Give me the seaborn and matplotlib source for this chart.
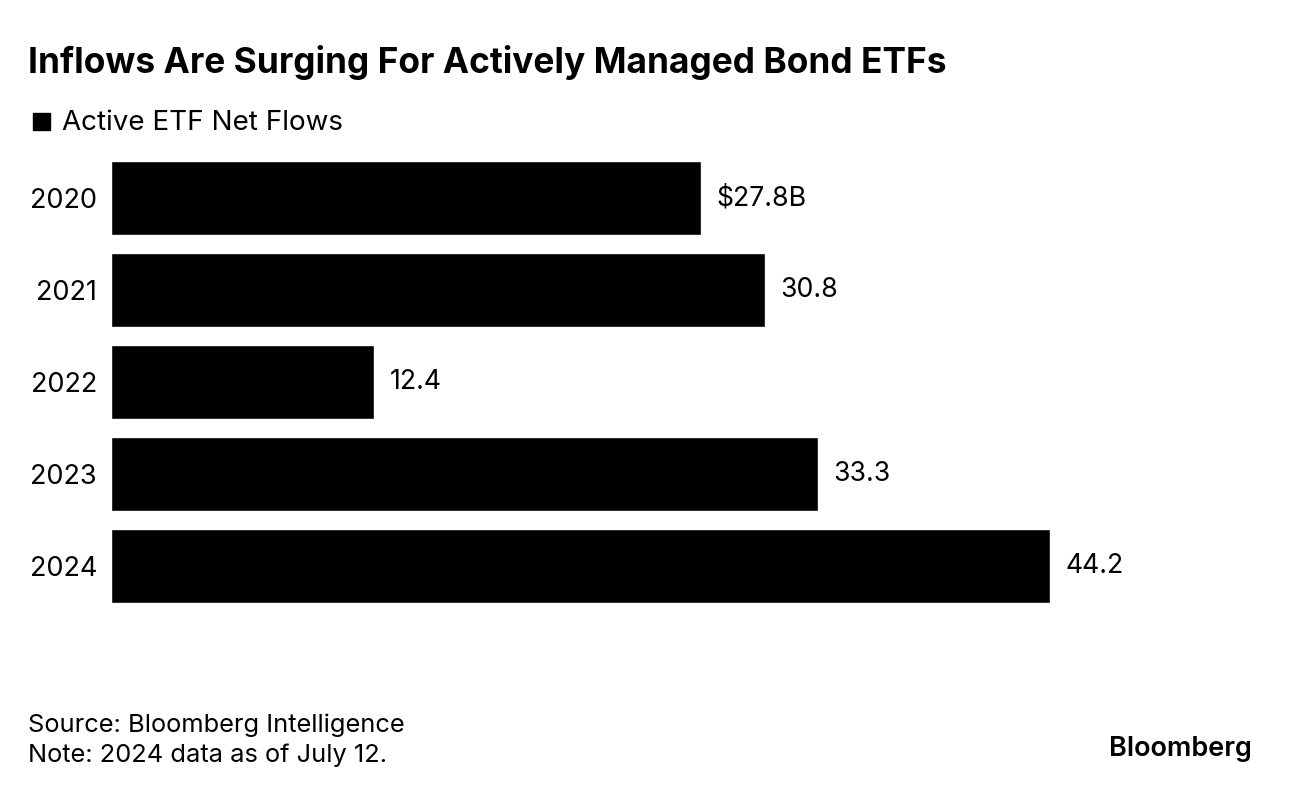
import numpy as np
import pandas as pd
import matplotlib.pyplot as plt
import seaborn as sns

# data
years = ["2020", "2021", "2022", "2023", "2024"]
net_flows = [27.8, 30.8, 12.4, 33.3, 44.2]
value_labels = ["$27.8B", "30.8", "12.4", "33.3", "44.2"]

sns.set_theme(style="white")
plt.rcParams['font.family'] = ['Inter', 'DejaVu Sans']
plt.rcParams['text.color'] = 'black'
plt.rcParams['ytick.color'] = 'black'

df = pd.DataFrame({"year": years, "flows": net_flows})

fig = plt.figure(figsize=(12.92, 7.94), dpi=100)
ax = fig.add_axes([111 / 1292, 1 - 612 / 794, (1250 - 111) / 1292, 460 / 794])

sns.barplot(data=df, x="flows", y="year", color="black", width=0.8,
            saturation=1, ax=ax)
ax.set_xlim(0, (1250 - 111) / 21.24)
ax.set_ylim(4.5, -0.5)
ax.set(xlabel="", ylabel="")
ax.set_xticks([])
sns.despine(ax=ax, left=True, bottom=True)
ax.tick_params(axis="y", length=0, pad=10, labelsize=19.5, labelcolor="black")

for i, (v, lab) in enumerate(zip(net_flows, value_labels)):
    ax.annotate(lab, (v, i), xytext=(11, 0), textcoords="offset points",
                va="center", ha="left", fontsize=19.2, color="black")

# title and legend
fig.text(28 / 1292, 1 - 62 / 794, "Inflows Are Surging For Actively Managed Bond ETFs",
         fontsize=25.4, fontweight="bold", va="center", ha="left")
fig.patches.append(plt.Rectangle((33 / 1292, 1 - 130 / 794), 17 / 1292, 17 / 794,
                                 transform=fig.transFigure, color="black"))
fig.text(62 / 1292, 1 - 123 / 794, "Active ETF Net Flows", fontsize=20,
         va="center", ha="left")

# footer
fig.text(28 / 1292, 1 - 725 / 794, "Source: Bloomberg Intelligence", fontsize=18.3,
         va="center", ha="left")
fig.text(28 / 1292, 1 - 755 / 794, "Note: 2024 data as of July 12.", fontsize=18.3,
         va="center", ha="left")
fig.text(1252 / 1292, 1 - 749 / 794, "Bloomberg", fontsize=19.5, fontweight="semibold",
         va="center", ha="right")

fig.savefig("out.png", dpi=100)
